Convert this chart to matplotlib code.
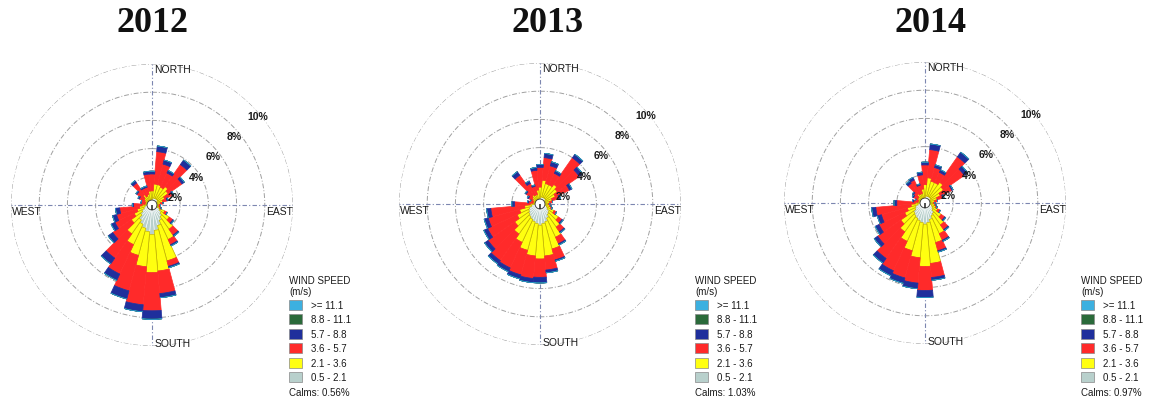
import numpy as np
import matplotlib
matplotlib.use("Agg")
import matplotlib.pyplot as plt
from matplotlib.patches import Rectangle

# ---------------- data ----------------
years = ["2012", "2013", "2014"]
directions_deg = [0, 10, 20, 30, 40, 50, 60, 70, 80, 90, 100, 110, 120, 130, 140, 150, 160, 170,
                  180, 190, 200, 210, 220, 230, 240, 250, 260, 270, 280, 290, 300, 310, 320, 330, 340, 350]
speed_labels = [">= 11.1", "8.8 - 11.1", "5.7 - 8.8", "3.6 - 5.7", "2.1 - 3.6", "0.5 - 2.1"]
calms_labels = ["Calms: 0.56%", "Calms: 1.03%", "Calms: 0.97%"]
ring_values = [2, 4, 6, 8, 10]
ring_labels = ["2%", "4%", "6%", "8%", "10%"]
cardinal_labels = ["NORTH", "EAST", "SOUTH", "WEST"]

# frequency (%) per direction for each speed class
y2012_05_21 = [0.4, 0.5, 0.5, 0.5, 0.5, 0.5, 0.4, 0.4, 0.3, 0.3, 0.3, 0.4, 0.6, 0.8, 1.0, 1.2, 1.5, 1.8,
               2.1, 1.9, 1.7, 1.5, 1.3, 1.0, 0.8, 0.6, 0.5, 0.4, 0.3, 0.3, 0.3, 0.3, 0.4, 0.3, 0.3, 0.4]
y2012_21_36 = [0.6, 1.0, 1.0, 0.9, 1.1, 0.9, 0.6, 0.4, 0.3, 0.2, 0.2, 0.2, 0.4, 0.7, 1.1, 1.5, 2.6, 2.9,
               2.7, 2.5, 2.0, 1.6, 1.2, 0.8, 0.6, 0.5, 0.4, 0.3, 0.2, 0.2, 0.3, 0.4, 0.5, 0.4, 0.5, 0.6]
y2012_36_57 = [1.2, 2.3, 1.5, 1.1, 1.9, 1.2, 0.6, 0.3, 0.2, 0.1, 0.1, 0.1, 0.2, 0.3, 0.5, 0.4, 0.4, 1.6,
               2.7, 2.7, 2.6, 2.3, 2.1, 1.6, 1.5, 1.5, 1.4, 0.6, 0.3, 0.3, 0.4, 0.6, 1.0, 0.6, 0.5, 1.2]
y2012_57_88 = [0.2, 0.4, 0.3, 0.2, 0.4, 0.2, 0.1, 0.1, 0.0, 0.0, 0.0, 0.0, 0.0, 0.1, 0.1, 0.1, 0.1, 0.3,
               0.6, 0.5, 0.6, 0.5, 0.5, 0.4, 0.3, 0.3, 0.3, 0.1, 0.0, 0.0, 0.1, 0.1, 0.2, 0.1, 0.1, 0.2]
y2012_88_111 = [0.0] * 36
y2012_111 = [0.0] * 36

y2013_05_21 = [0.4, 0.5, 0.5, 0.5, 0.5, 0.5, 0.4, 0.4, 0.4, 0.4, 0.4, 0.5, 0.6, 0.8, 0.9, 1.1, 1.3, 1.4,
               1.5, 1.4, 1.3, 1.2, 1.1, 1.0, 0.9, 0.8, 0.6, 0.4, 0.3, 0.3, 0.3, 0.3, 0.3, 0.3, 0.3, 0.4]
y2013_21_36 = [0.8, 1.2, 1.0, 1.0, 1.2, 1.0, 0.8, 0.5, 0.3, 0.2, 0.3, 0.3, 0.5, 0.8, 1.1, 1.5, 2.0, 2.3,
               2.4, 2.3, 2.1, 1.8, 1.5, 1.2, 0.9, 0.7, 0.5, 0.3, 0.2, 0.2, 0.3, 0.4, 0.5, 0.4, 0.4, 0.6]
y2013_36_57 = [1.4, 1.6, 1.3, 0.9, 2.3, 1.9, 1.1, 0.5, 0.2, 0.1, 0.1, 0.1, 0.2, 0.3, 0.4, 0.5, 0.8, 1.0,
               1.3, 1.6, 1.8, 2.0, 2.3, 2.3, 2.3, 2.3, 2.4, 1.1, 0.3, 0.2, 0.3, 0.5, 1.7, 0.9, 0.6, 1.4]
y2013_57_88 = [0.2, 0.3, 0.3, 0.2, 0.3, 0.3, 0.2, 0.1, 0.0, 0.0, 0.0, 0.0, 0.0, 0.1, 0.1, 0.1, 0.1, 0.2,
               0.4, 0.3, 0.3, 0.3, 0.3, 0.3, 0.3, 0.3, 0.3, 0.2, 0.1, 0.0, 0.1, 0.1, 0.3, 0.2, 0.1, 0.2]
y2013_88_111 = [0.0] * 36
y2013_111 = [0.0] * 36

y2014_05_21 = [0.4, 0.5, 0.5, 0.5, 0.5, 0.5, 0.4, 0.4, 0.4, 0.4, 0.4, 0.5, 0.6, 0.7, 0.9, 1.0, 1.2, 1.4,
               1.5, 1.4, 1.3, 1.2, 1.1, 1.0, 0.8, 0.7, 0.5, 0.4, 0.3, 0.3, 0.3, 0.3, 0.3, 0.3, 0.3, 0.4]
y2014_21_36 = [0.9, 1.3, 1.1, 1.1, 1.3, 1.1, 0.8, 0.5, 0.3, 0.2, 0.3, 0.3, 0.4, 0.7, 1.0, 1.4, 1.7, 2.9,
               3.0, 2.5, 2.2, 1.8, 1.4, 1.1, 0.8, 0.6, 0.5, 0.3, 0.2, 0.2, 0.3, 0.3, 0.5, 0.4, 0.4, 0.6]
y2014_36_57 = [1.4, 2.0, 1.0, 0.8, 2.2, 1.8, 0.9, 0.4, 0.2, 0.1, 0.1, 0.1, 0.2, 0.3, 0.4, 0.5, 0.6, 1.0,
               1.7, 1.8, 2.0, 2.3, 2.3, 2.0, 2.0, 1.9, 2.5, 1.3, 0.3, 0.2, 0.3, 0.4, 0.9, 1.1, 0.6, 1.0]
y2014_57_88 = [0.2, 0.4, 0.2, 0.2, 0.4, 0.3, 0.1, 0.1, 0.0, 0.0, 0.0, 0.0, 0.0, 0.1, 0.1, 0.1, 0.1, 0.2,
               0.5, 0.4, 0.4, 0.4, 0.4, 0.3, 0.3, 0.3, 0.3, 0.2, 0.1, 0.0, 0.1, 0.1, 0.2, 0.2, 0.1, 0.2]
y2014_88_111 = [0.0] * 36
y2014_111 = [0.0] * 36

# stacked from inner (slow) to outer (fast)
year_series = [
    [y2012_05_21, y2012_21_36, y2012_36_57, y2012_57_88, y2012_88_111, y2012_111],
    [y2013_05_21, y2013_21_36, y2013_36_57, y2013_57_88, y2013_88_111, y2013_111],
    [y2014_05_21, y2014_21_36, y2014_36_57, y2014_57_88, y2014_88_111, y2014_111],
]

# ---------------- style ----------------
class_colors = ["#b8d0cc", "#ffff10", "#ff2a2a", "#1f2f9c", "#2a6a3a", "#3cb0e0"]  # inner -> outer
class_edges = ["#f4f8f8", "#c0b000", "#ff2a2a", "#1f2f9c", "#1f4f2c", "#2a90c0"]

W, H = 1152, 402
centers = [(152, 206), (540, 205), (925, 204)]
radius_px = 141
title_x = [152, 548, 930]
legend_x = [289, 695, 1081]
sans = "Liberation Sans"
txt_color = "#1a1a1a"

fig = plt.figure(figsize=(W / 100, H / 100), dpi=100)
fig.patch.set_facecolor("white")

theta = np.deg2rad(directions_deg)
width = np.deg2rad(10)
full = np.linspace(0, 2 * np.pi, 400)

label_polar = [(71, 1.72), (57.5, 3.7), (51, 5.55), (50, 7.6), (50, 9.8)]

for i, year in enumerate(years):
    cx, cy = centers[i]
    ax = fig.add_axes([(cx - radius_px) / W, 1 - (cy + radius_px) / H,
                       2 * radius_px / W, 2 * radius_px / H], projection="polar")
    ax.set_theta_zero_location("N")
    ax.set_theta_direction(-1)
    ax.set_ylim(0, 10)
    ax.grid(False)
    ax.set_xticks([])
    ax.set_yticks([])
    ax.spines["polar"].set_visible(False)
    ax.patch.set_alpha(0)

    # rings
    for rv in ring_values:
        ax.plot(full, np.full_like(full, rv), color="#a0a0a0", lw=0.7,
                linestyle=(0, (5, 2, 1, 2)), zorder=1)
    # cardinal lines
    for ang in [0, 90, 180, 270]:
        ax.plot([np.deg2rad(ang)] * 2, [0, 10], color="#7c86b0", lw=0.8,
                linestyle=(0, (4, 2, 1, 2)), zorder=1)

    bottom = np.zeros(36)
    for k, series in enumerate(year_series[i]):
        vals = np.array(series)
        ax.bar(theta, vals, width=width, bottom=bottom, color=class_colors[k],
               edgecolor=class_edges[k], linewidth=0.5, zorder=3)
        bottom = bottom + vals

    # calm circle
    ax.bar(0, 0.35, width=2 * np.pi, bottom=0, color="white", edgecolor="#333333",
           linewidth=0.6, zorder=6)

    # ring labels
    for (ang, r), txt in zip(label_polar, ring_labels):
        ax.text(np.deg2rad(ang), r, txt, ha="center", va="center", fontsize=7.5,
                fontweight="bold", family=sans, color=txt_color, zorder=7)

    # cardinal labels (axes fraction coordinates)
    def frac(dx, dy):
        return 0.5 + dx / (2 * radius_px), 0.5 + dy / (2 * radius_px)
    ax.text(*frac(2, 136), cardinal_labels[0], transform=ax.transAxes, ha="left",
            va="center", fontsize=7.5, family=sans, color=txt_color)
    ax.text(*frac(141, -6), cardinal_labels[1], transform=ax.transAxes, ha="right",
            va="center", fontsize=7.5, family=sans, color=txt_color)
    ax.text(*frac(3, -138), cardinal_labels[2], transform=ax.transAxes, ha="left",
            va="center", fontsize=7.5, family=sans, color=txt_color)
    ax.text(*frac(-140, -6), cardinal_labels[3], transform=ax.transAxes, ha="left",
            va="center", fontsize=7.5, family=sans, color=txt_color)

    # title
    fig.text(title_x[i] / W, 1 - 23 / H, year, ha="center", va="center", fontsize=26,
             fontweight="bold", family="Liberation Serif", color="#111111")

    # legend
    lx = legend_x[i]
    fig.text(lx / W, 1 - 281 / H, "WIND SPEED", ha="left", va="center", fontsize=7,
             family=sans, color=txt_color)
    fig.text(lx / W, 1 - 292 / H, "(m/s)", ha="left", va="center", fontsize=7,
             family=sans, color=txt_color)
    legend_colors = class_colors[::-1]
    for j, lab in enumerate(speed_labels):
        yc = 306 + 14.4 * j
        fig.add_artist(Rectangle((lx / W, 1 - (yc + 5) / H), 13 / W, 10 / H,
                                 transform=fig.transFigure, facecolor=legend_colors[j],
                                 edgecolor="#888888", linewidth=0.5))
        fig.text((lx + 22) / W, 1 - yc / H, lab, ha="left", va="center", fontsize=7,
                 family=sans, color=txt_color)
    fig.text(lx / W, 1 - 393 / H, calms_labels[i], ha="left", va="center", fontsize=7,
             family=sans, color=txt_color)

fig.savefig("out.png", dpi=100)
